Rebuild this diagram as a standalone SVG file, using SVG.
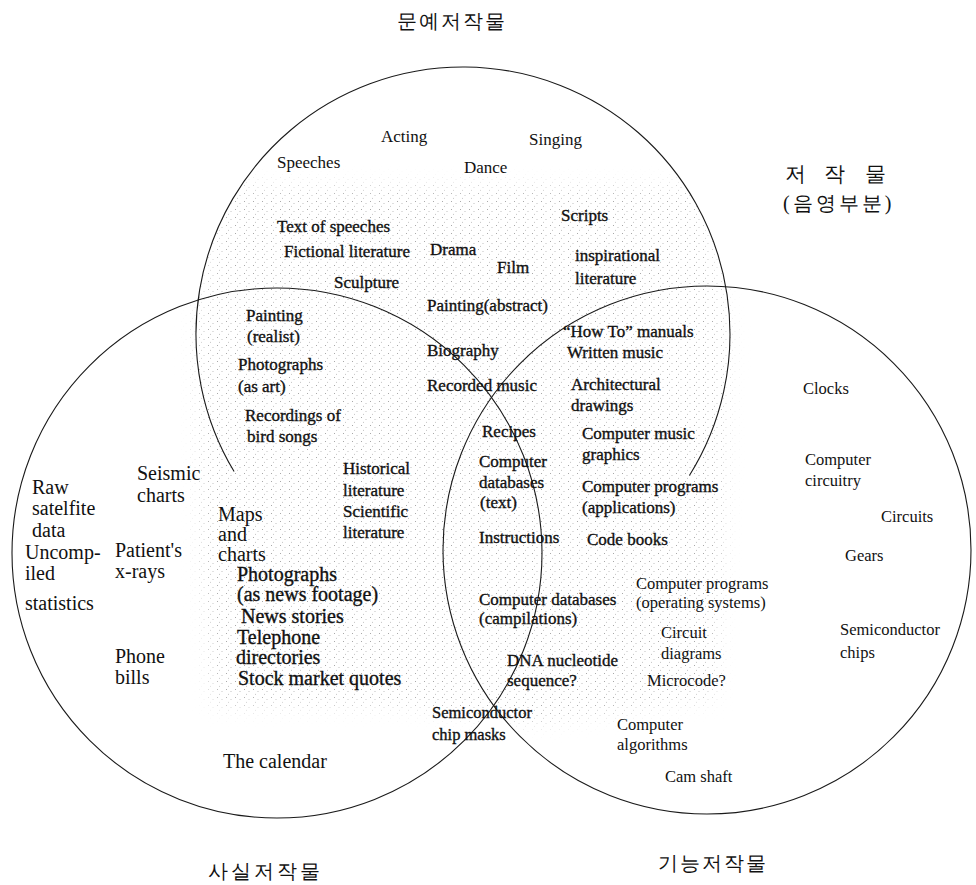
<svg xmlns="http://www.w3.org/2000/svg" width="976" height="885" viewBox="0 0 976 885">
<defs>
<pattern id="stipple" width="9" height="8" patternUnits="userSpaceOnUse">
<circle cx="1.5" cy="1.5" r="0.55" fill="#999"/>
<circle cx="6" cy="3.5" r="0.5" fill="#aaa"/>
<circle cx="3.5" cy="6.2" r="0.5" fill="#b0b0b0"/>
</pattern>
<filter id="soft" x="-10%" y="-10%" width="120%" height="120%">
<feGaussianBlur stdDeviation="9"/>
</filter>
<mask id="shadeMask" maskUnits="userSpaceOnUse" x="0" y="0" width="976" height="885">
<path d="M 225 185 L 700 185 L 730 330 L 724 560 L 716 700 L 540 724 L 400 708 L 212 708 L 200 560 L 195 330 Z" fill="#fff" filter="url(#soft)"/>
</mask>
<clipPath id="unionClip">
<path d="M 689.4 475.5 A 267 267 0 1 0 234.1 471.5 L 238 700 L 700 700 Z"/>
<circle cx="277" cy="553" r="265"/>
<circle cx="707" cy="550" r="264"/>
</clipPath>
<style>
.c{fill:none;stroke:#1a1a1a;stroke-width:1.1}
text{font-family:"Liberation Serif","Times New Roman",serif;fill:#111}
.m{font-size:17px}
.b{stroke:#111;stroke-width:0.35}
.l{font-size:20px}
.r{font-size:16.5px}
.k{font-family:"Noto Sans CJK KR","Noto Sans CJK SC",sans-serif;font-size:20px}
</style>
</defs>
<rect width="976" height="885" fill="#fff"/>

<g id="shading" clip-path="url(#unionClip)">
<rect x="0" y="0" width="976" height="885" fill="url(#stipple)" mask="url(#shadeMask)"/>
</g>

<g id="circles">
<path id="literary-circle" class="c" d="M 689.4 475.5 A 267 267 0 1 0 234.1 471.5"/>
<circle id="factual-circle" class="c" cx="277" cy="553" r="265"/>
<circle id="functional-circle" class="c" cx="707" cy="550" r="264"/>
</g>

<g id="headings" class="k">
<text x="397" y="28" letter-spacing="2">문예저작물</text>
<text x="785 824 865" y="181" font-size="21" font-weight="500">저작물</text>
<text x="783" y="210" letter-spacing="3">(음영부분)</text>
<text x="208" y="878" letter-spacing="3">사실저작물</text>
<text x="658" y="870" letter-spacing="2">기능저작물</text>
</g>

<g id="literary-labels" class="m">
<text x="277" y="168">Speeches</text>
<text x="381" y="142">Acting</text>
<text x="464" y="173">Dance</text>
<text x="529" y="145">Singing</text>
<text class="b" x="561" y="221">Scripts</text>
<text class="b" x="277" y="232">Text of speeches</text>
<text class="b" x="284" y="257">Fictional literature</text>
<text class="b" x="430" y="255">Drama</text>
<text class="b" x="497" y="273">Film</text>
<text class="b" x="575" y="261">inspirational</text>
<text class="b" x="575" y="284">literature</text>
<text class="b" x="334" y="288">Sculpture</text>
<text class="b" x="427" y="311">Painting(abstract)</text>
</g>

<g id="literary-factual-labels" class="m b">
<text x="246" y="321">Painting</text>
<text x="247" y="342">(realist)</text>
<text x="238" y="370">Photographs</text>
<text x="238" y="392">(as art)</text>
<text x="245" y="421">Recordings of</text>
<text x="247" y="442">bird songs</text>
<text x="427" y="356">Biography</text>
<text x="427" y="391">Recorded music</text>
</g>

<g id="literary-functional-labels" class="m b">
<text x="563" y="337">“How To” manuals</text>
<text x="567" y="358">Written music</text>
<text x="571" y="390">Architectural</text>
<text x="571" y="411">drawings</text>
<text x="582" y="439">Computer music</text>
<text x="582" y="460">graphics</text>
<text x="582" y="492">Computer programs</text>
<text x="582" y="513">(applications)</text>
</g>

<g id="center-labels" class="m b">
<text x="482" y="437">Recipes</text>
<text x="479" y="467">Computer</text>
<text x="479" y="488">databases</text>
<text x="480" y="508">(text)</text>
<text x="479" y="543">Instructions</text>
<text x="479" y="605">Computer databases</text>
<text x="479" y="624">(campilations)</text>
<text x="507" y="666">DNA nucleotide</text>
<text x="507" y="686">sequence?</text>
<text class="r" x="432" y="718">Semiconductor</text>
<text class="r" x="432" y="740">chip masks</text>
</g>

<g id="factual-labels" class="l">
<text x="32" y="494">Raw</text>
<text x="32" y="515">satelfite</text>
<text x="32" y="537">data</text>
<text x="137" y="480">Seismic</text>
<text x="137" y="502">charts</text>
<text x="25" y="559">Uncomp-</text>
<text x="25" y="580">iled</text>
<text x="25" y="610">statistics</text>
<text x="115" y="557">Patient's</text>
<text x="115" y="578">x-rays</text>
<text x="115" y="663">Phone</text>
<text x="115" y="684">bills</text>
<text x="223" y="768">The calendar</text>
<text x="218" y="521">Maps</text>
<text x="218" y="541">and</text>
<text x="218" y="561">charts</text>
</g>

<g id="factual-shaded-labels">
<text class="m b" x="343" y="474">Historical</text>
<text class="m b" x="343" y="496">literature</text>
<text class="m b" x="343" y="517">Scientific</text>
<text class="m b" x="343" y="538">literature</text>
<text class="l b" x="237" y="581" font-size="19.5">Photographs</text>
<text class="l b" x="237" y="601" font-size="19.5">(as news footage)</text>
<text class="l b" x="241" y="623" font-size="19.5">News stories</text>
<text class="l b" x="237" y="644" font-size="19.5">Telephone</text>
<text class="l b" x="236" y="664" font-size="19.5">directories</text>
<text class="l b" x="238" y="685" font-size="19.5">Stock market quotes</text>
</g>

<g id="functional-labels" class="r">
<text class="m b" x="587" y="545">Code books</text>
<text x="636" y="589">Computer programs</text>
<text x="636" y="608">(operating systems)</text>
<text x="661" y="638">Circuit</text>
<text x="661" y="659">diagrams</text>
<text x="647" y="686">Microcode?</text>
<text x="617" y="730">Computer</text>
<text x="617" y="750">algorithms</text>
<text x="665" y="782">Cam shaft</text>
<text x="803" y="394">Clocks</text>
<text x="805" y="465">Computer</text>
<text x="805" y="486">circuitry</text>
<text x="881" y="522">Circuits</text>
<text x="845" y="561">Gears</text>
<text x="840" y="635">Semiconductor</text>
<text x="840" y="658">chips</text>
</g>
</svg>
